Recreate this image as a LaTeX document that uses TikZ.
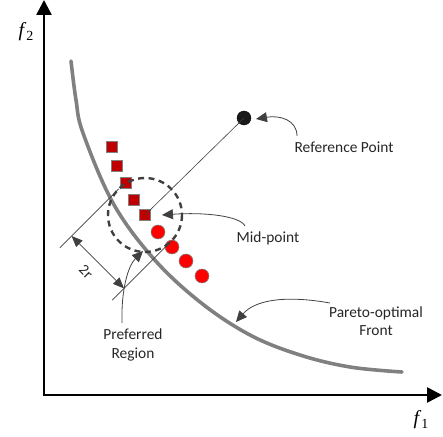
\documentclass[tikz,border=0pt]{standalone}
\usepackage{fontspec}
\setmainfont{Carlito}
\newfontfamily\serifit{Liberation Serif}
\usetikzlibrary{arrows.meta,calc}
\definecolor{sqred}{HTML}{C00000}
\definecolor{dkgray}{HTML}{404040}
\definecolor{curvegray}{HTML}{808080}
\tikzset{
  axis/.style={line width=2.6pt,-{Triangle[length=15pt,width=15pt]}},
  front/.style={line width=3.6pt,curvegray,line cap=round},
  sqmark/.style={draw=gray,line width=0.6pt,fill=sqred,minimum size=11pt,inner sep=0pt,rectangle},
  dotmark/.style={draw=gray,line width=0.6pt,fill=red,circle,minimum size=14pt,inner sep=0pt},
  refmark/.style={draw=black,fill=black!90,circle,minimum size=14pt,inner sep=0pt},
  thinline/.style={line width=0.6pt,dkgray},
  callout/.style={line width=0.8pt,dkgray,-{Triangle[length=11pt,width=10pt]}},
  dimarrow/.style={line width=0.8pt,dkgray,{Triangle[length=11pt,width=9pt]}-{Triangle[length=11pt,width=9pt]}},
  lbl/.style={font=\fontsize{15.5}{18.5}\selectfont,text=black!85,align=center,inner sep=0pt},
  axlbl/.style={font=\serifit\fontsize{20}{22}\selectfont,inner sep=0pt}
}
\begin{document}
\begin{tikzpicture}[x=1bp,y=-1bp]
\useasboundingbox (0,0) rectangle (443,437);
% axes
\coordinate (O) at (44,395);
\coordinate (ytop) at (44,0);
\coordinate (xend) at (442,395);
\draw[axis] (O) -- (ytop);
\draw[axis] ([xshift=-1.3pt]O) -- (xend);
\node[axlbl] (f2) at (26,32) {\textit{f}\raisebox{-4pt}{\fontsize{14}{14}\selectfont 2}};
\node[axlbl] (f1) at (421,420) {\textit{f}\raisebox{-4pt}{\fontsize{14}{14}\selectfont 1}};
% Pareto front
\draw[front] plot[smooth,tension=0.6] coordinates {(71,61) (76,100) (83,133) (113,203) (153,258) (200,302) (250,335) (300,355) (350,367) (402,372)};
% markers
\node[sqmark] (s1) at (112,147) {};
\node[sqmark] (s2) at (117,166) {};
\node[sqmark] (s3) at (126,183) {};
\node[sqmark] (s4) at (134,200) {};
\node[sqmark] (M) at (145,215) {};
\node[dotmark] (c1) at (158,232) {};
\node[dotmark] (c2) at (172,247) {};
\node[dotmark] (c3) at (186,261) {};
\node[dotmark] (c4) at (202,276) {};
\node[refmark] (R) at (244,118) {};
% geometry lines
\coordinate (T1) at (118.8,188.8);
\coordinate (T2) at (171.2,241.2);
\coordinate (E1) at (59.8,247.8);
\coordinate (E2) at (112.2,300.2);
\draw[thinline] (R.center) -- (M.center);
\draw[thinline] (T1) -- (E1);
\draw[thinline] (T2) -- (E2);
\draw[dkgray,line width=2.4pt,dash pattern=on 6pt off 4.5pt] (M.center) circle[radius=37];
% dimension
\coordinate (D1) at ($(T1)!0.8!(E1)$);
\coordinate (D2) at ($(T2)!0.8!(E2)$);
\draw[dimarrow] (D1) -- (D2);
\node[font=\fontsize{15}{15}\selectfont,text=black!85,rotate=-45,inner sep=0pt] (tr) at (86,272) {2r};
% labels
\node[lbl] (reflbl) at (344,147) {Reference Point};
\node[lbl] (midlbl) at (268,238) {Mid-point};
\node[lbl] (parlbl) at (376,321) {Pareto-optimal\\Front};
\node[lbl] (preflbl) at (133,345) {Preferred\\Region};
% callouts
\coordinate (a1) at (297,136);
\coordinate (a2) at (245,226);
\coordinate (a3) at (330,303);
\coordinate (a4) at (122,323);
\coordinate (b1) at (256,119);
\coordinate (b2) at (162,215);
\coordinate (b3) at (236,322);
\coordinate (b4) at (143,251);
\draw[callout] (a1) .. controls (297,120) and (280,115) .. (b1);
\draw[callout] (a2) .. controls (240,216) and (205,212) .. (b2);
\draw[callout] (a3) .. controls (285,295) and (255,300) .. (b3);
\draw[callout] (a4) .. controls (121,290) and (128,266) .. (b4);
\end{tikzpicture}
\end{document}
